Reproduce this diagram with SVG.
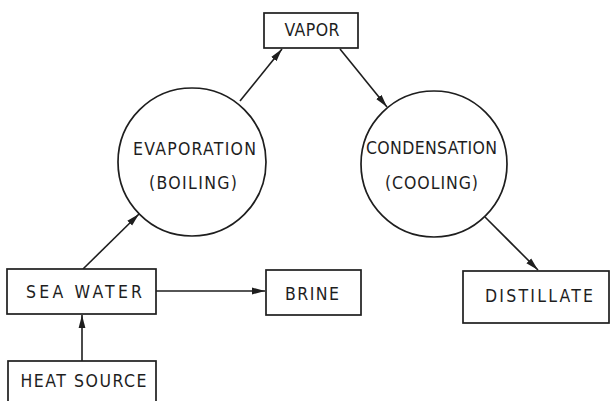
<svg xmlns="http://www.w3.org/2000/svg" width="611" height="401" viewBox="0 0 611 401">
  <style>
    .box { fill: #fff; stroke: #1e1e1e; stroke-width: 1.7; }
    .circ { fill: #fff; stroke: #1e1e1e; stroke-width: 1.7; }
    .lbl { font-family: "DejaVu Sans Condensed", "DejaVu Sans", "Liberation Sans", sans-serif; font-stretch: condensed; font-size: 17.5px; fill: #1e1e1e; text-anchor: middle; }
    .edge { fill: none; stroke: #1e1e1e; stroke-width: 1.6; marker-end: url(#arrow); }
  </style>
  <defs>
    <marker id="arrow" viewBox="0 0 13 8" refX="13" refY="4" markerWidth="13" markerHeight="8" markerUnits="userSpaceOnUse" orient="auto">
      <path d="M0,0.6 L13,4 L0,7.4 Z" fill="#1e1e1e"/>
    </marker>
  </defs>
  <rect width="611" height="401" fill="#fff"/>

  <g id="connectors">
    <line class="edge" x1="82" y1="361" x2="82" y2="315"/>
    <line class="edge" x1="156" y1="291" x2="265" y2="291"/>
    <line class="edge" x1="83" y1="269" x2="139" y2="214"/>
    <line class="edge" x1="240" y1="101" x2="282" y2="49"/>
    <line class="edge" x1="340" y1="49" x2="387" y2="107"/>
    <line class="edge" x1="485" y1="217" x2="538" y2="270"/>
  </g>

  <g id="vapor">
    <rect class="box" x="264" y="13" width="94" height="35"/>
    <text class="lbl" x="312" y="36" textLength="55" lengthAdjust="spacing">VAPOR</text>
  </g>

  <g id="evaporation">
    <circle class="circ" cx="192" cy="162" r="74"/>
    <text class="lbl" x="194.5" y="155" textLength="123" lengthAdjust="spacing">EVAPORATION</text>
    <text class="lbl" x="193" y="189" textLength="88" lengthAdjust="spacing">(BOILING)</text>
  </g>

  <g id="condensation">
    <circle class="circ" cx="434" cy="164" r="73"/>
    <text class="lbl" x="431.5" y="154" textLength="131" lengthAdjust="spacing">CONDENSATION</text>
    <text class="lbl" x="431.5" y="189" textLength="93" lengthAdjust="spacing">(COOLING)</text>
  </g>

  <g id="sea-water">
    <rect class="box" x="7" y="269" width="149" height="45"/>
    <text class="lbl" x="84" y="298" textLength="116" lengthAdjust="spacing">SEA WATER</text>
  </g>

  <g id="brine">
    <rect class="box" x="266" y="270" width="95" height="45"/>
    <text class="lbl" x="312" y="300" textLength="54" lengthAdjust="spacing">BRINE</text>
  </g>

  <g id="distillate">
    <rect class="box" x="463" y="271" width="146" height="52"/>
    <text class="lbl" x="539" y="302" textLength="108" lengthAdjust="spacing">DISTILLATE</text>
  </g>

  <g id="heat-source">
    <rect class="box" x="8" y="361" width="148" height="50"/>
    <text class="lbl" x="83.5" y="387" textLength="126" lengthAdjust="spacing">HEAT SOURCE</text>
  </g>
</svg>
